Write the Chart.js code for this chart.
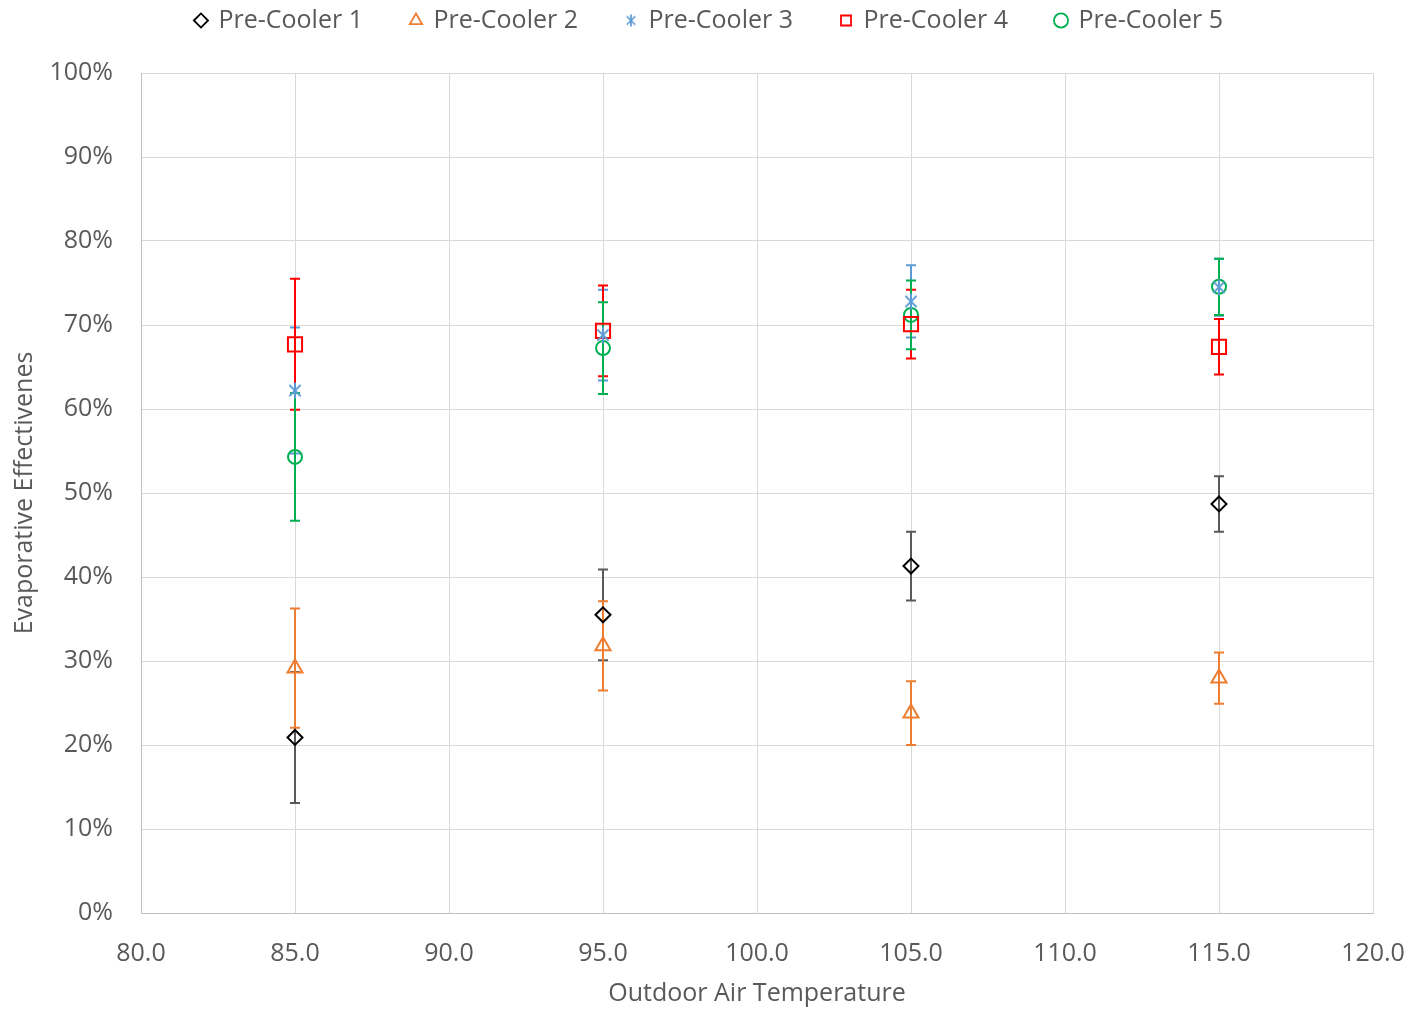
<!DOCTYPE html>
<html>
<head>
<meta charset="utf-8">
<script src="https://cdn.jsdelivr.net/npm/chart.js@4.4.1/dist/chart.umd.min.js"></script>
<style>
  html, body { margin: 0; padding: 0; background: #ffffff; }
  #wrap { width: 1414px; height: 1011px; position: relative; }
</style>
</head>
<body>
<div id="wrap"><canvas id="chart" width="1414" height="1011"></canvas></div>
<script>
// Outdoor air temperatures tested (°F)
const temperatures = [85, 95, 105, 115];

// Evaporative effectiveness (%) per pre-cooler, with ± error
const seriesNames = ['Pre-Cooler 1', 'Pre-Cooler 2', 'Pre-Cooler 3', 'Pre-Cooler 4', 'Pre-Cooler 5'];
const preCooler1 = [20.9, 35.5, 41.3, 48.7];
const preCooler2 = [29.15, 31.8, 23.8, 27.95];
const preCooler3 = [62.2, 68.8, 72.8, 74.5];
const preCooler4 = [67.7, 69.3, 70.1, 67.4];
const preCooler5 = [54.3, 67.25, 71.2, 74.55];
const errors1 = [7.8, 5.4, 4.1, 3.3];
const errors2 = [7.1, 5.3, 3.8, 3.05];
const errors3 = [7.5, 5.4, 4.3, 3.4];
const errors4 = [7.8, 5.4, 4.1, 3.3];
const errors5 = [7.6, 5.45, 4.1, 3.35];

// Axis ticks
const xTicks = [80, 85, 90, 95, 100, 105, 110, 115, 120];
const yTicks = [0, 10, 20, 30, 40, 50, 60, 70, 80, 90, 100];

const FONT = "'Open Sans', 'Noto Sans', sans-serif";
const TEXT = '#595959';

// Asterisk marker: an X with a vertical stroke
function asterisk(size, color, lw) {
  const c = document.createElement('canvas');
  c.width = size; c.height = size;
  const g = c.getContext('2d');
  g.strokeStyle = color; g.lineWidth = lw; g.lineCap = 'butt';
  const m = size / 2, r = size / 2 - 1;
  const d = r * Math.SQRT1_2;
  g.beginPath();
  g.moveTo(m - d, m - d); g.lineTo(m + d, m + d);
  g.moveTo(m + d, m - d); g.lineTo(m - d, m + d);
  g.moveTo(m, m - r); g.lineTo(m, m + r);
  g.stroke();
  return c;
}
const starPlot = asterisk(18, '#5B9BD5', 2);
const starLegend = asterisk(14, '#5B9BD5', 1.7);

function pts(vals) { return temperatures.map((t, i) => ({ x: t, y: vals[i] })); }

const series = [
  { vals: preCooler1, err: errors1, color: '#000000', errColor: '#595959', style: 'rectRot', radius: 7.5 },
  { vals: preCooler2, err: errors2, color: '#ED7D31', errColor: '#ED7D31', style: 'triangle', radius: 8.7 },
  { vals: preCooler3, err: errors3, color: '#5B9BD5', errColor: '#5B9BD5', style: starPlot, radius: 8 },
  { vals: preCooler4, err: errors4, color: '#FF0000', errColor: '#FF0000', style: 'rect', radius: 10 },
  { vals: preCooler5, err: errors5, color: '#00B050', errColor: '#00B050', style: 'circle', radius: 7 }
];

const datasets = series.map((s, i) => ({
  label: seriesNames[i],
  data: pts(s.vals),
  errors: s.err,
  errColor: s.errColor,
  showLine: false,
  borderColor: s.color,
  backgroundColor: 'rgba(0,0,0,0)',
  pointStyle: s.style,
  pointRadius: s.radius,
  pointHoverRadius: s.radius,
  pointBorderWidth: 2
}));

// Vertical error bars with caps, positioned through the chart scales
const errorBars = {
  id: 'errorBars',
  beforeDatasetsDraw(chart) {
    const ctx = chart.ctx;
    const xs = chart.scales.x, ys = chart.scales.y;
    ctx.save();
    chart.data.datasets.forEach(ds => {
      ctx.strokeStyle = ds.errColor;
      ctx.lineWidth = 2;
      ds.data.forEach((p, i) => {
        const e = ds.errors[i];
        const px = xs.getPixelForValue(p.x);
        const top = ys.getPixelForValue(p.y + e);
        const bot = ys.getPixelForValue(p.y - e);
        const cap = 5;
        ctx.beginPath();
        ctx.moveTo(px, top); ctx.lineTo(px, bot);
        ctx.moveTo(px - cap, top); ctx.lineTo(px + cap, top);
        ctx.moveTo(px - cap, bot); ctx.lineTo(px + cap, bot);
        ctx.stroke();
      });
    });
    ctx.restore();
  }
};

// Legend band: fixed height, items drawn in a single row near the top edge
const legendBand = {
  id: 'legendBand',
  beforeInit(chart) {
    const lg = chart.legend;
    const fit = lg.fit;
    lg.fit = function () { fit.call(this); this.height = 73; };
    const draw = lg.draw;
    lg.draw = function () {
      const ctx = this.ctx;
      ctx.save();
      ctx.translate(23, -40);
      draw.call(this);
      ctx.restore();
    };
  }
};

new Chart(document.getElementById('chart'), {
  type: 'scatter',
  data: { datasets },
  plugins: [errorBars, legendBand],
  options: {
    responsive: false,
    animation: false,
    layout: { padding: { left: 0, right: 41, top: 0, bottom: 0 } },
    plugins: {
      tooltip: { enabled: false },
      legend: {
        position: 'top',
        labels: {
          usePointStyle: true,
          boxHeight: 10,
          boxWidth: 10,
          padding: 48,
          color: TEXT,
          font: { family: FONT, size: 25 },
          generateLabels(chart) {
            const items = Chart.defaults.plugins.legend.labels.generateLabels(chart);
            items.forEach(it => { if (it.pointStyle === starPlot) it.pointStyle = starLegend; it.lineWidth = 1.8; });
            return items;
          }
        }
      }
    },
    scales: {
      x: {
        type: 'linear',
        min: 80, max: 120,
        afterBuildTicks(scale) { scale.ticks = xTicks.map(v => ({ value: v })); },
        afterFit(scale) { scale.height = 98; scale.paddingLeft = 0; scale.paddingRight = 0; },
        ticks: {
          color: TEXT,
          font: { family: FONT, size: 25 },
          padding: 26,
          maxRotation: 0,
          callback: v => Number(v).toFixed(1)
        },
        grid: { color: '#d9d9d9', lineWidth: 1, drawTicks: false },
        border: { color: '#bfbfbf', width: 1 },
        title: {
          display: true,
          text: 'Outdoor Air Temperature',
          color: TEXT,
          font: { family: FONT, size: 25 },
          padding: { top: 0, bottom: 2 }
        }
      },
      y: {
        type: 'linear',
        min: 0, max: 100,
        afterBuildTicks(scale) { scale.ticks = yTicks.map(v => ({ value: v })); },
        afterFit(scale) { scale.width = 141; scale.paddingTop = 0; scale.paddingBottom = 0; },
        ticks: {
          color: TEXT,
          font: { family: FONT, size: 25 },
          padding: 28,
          callback: v => v + '%'
        },
        grid: { color: '#d9d9d9', lineWidth: 1, drawTicks: false },
        border: { color: '#bfbfbf', width: 1 },
        title: {
          display: true,
          text: 'Evaporative Effectivenes',
          color: TEXT,
          font: { family: FONT, size: 25 },
          padding: { top: 10, bottom: 0 }
        }
      }
    }
  }
});
</script>
</body>
</html>
